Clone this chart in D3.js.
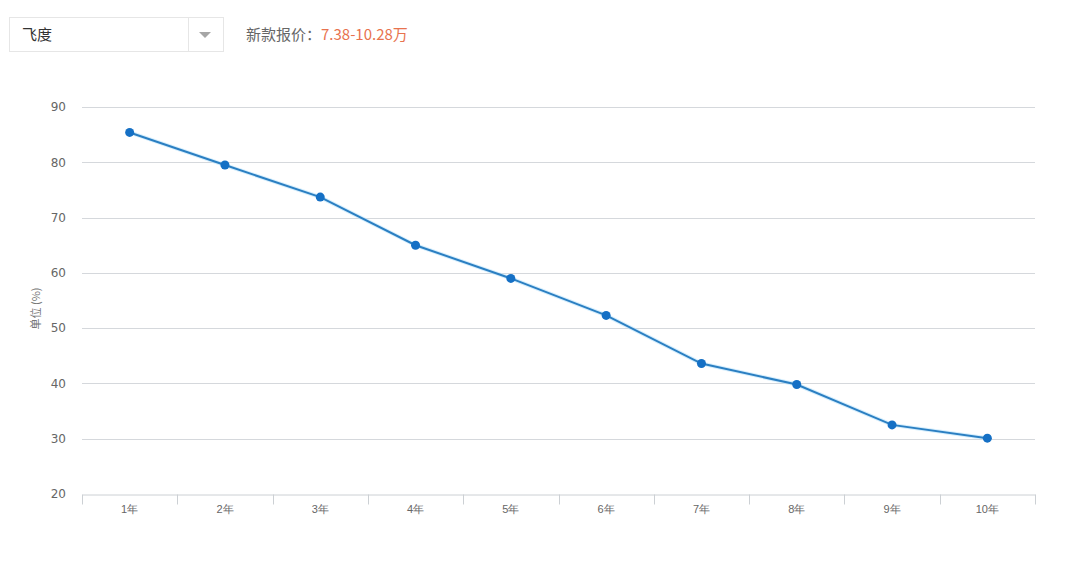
<!DOCTYPE html>
<html lang="zh">
<head>
<meta charset="utf-8">
<title>保值率</title>
<script src="https://d3js.org/d3.v7.min.js"></script>
<style>
  body { margin: 0; background: #fff; font-family: "Noto Sans CJK SC", "Noto Sans", sans-serif; }
</style>
</head>
<body>
<svg id="chart" width="1080" height="563"></svg>
<script>
// data
var years = ["1年", "2年", "3年", "4年", "5年", "6年", "7年", "8年", "9年", "10年"];
var rates = [85.4, 79.5, 73.7, 65.0, 59.0, 52.3, 43.6, 39.8, 32.5, 30.1];
var yTicks = [20, 30, 40, 50, 60, 70, 80, 90];
var carName = "飞度";
var priceLabel = "新款报价：";
var priceRange = "7.38-10.28万";

var svg = d3.select("#chart");

// --- header: fake dropdown + price
var head = svg.append("g");
head.append("rect")
  .attr("x", 9.5).attr("y", 17.5).attr("width", 214).attr("height", 34)
  .attr("fill", "#fff").attr("stroke", "#e6e6e6");
head.append("line")
  .attr("x1", 188.5).attr("x2", 188.5).attr("y1", 18).attr("y2", 51)
  .attr("stroke", "#e6e6e6");
head.append("path")
  .attr("d", "M199,32 L211,32 L205,38 Z")
  .attr("fill", "#a6a6a6");
head.append("text")
  .attr("x", 22).attr("y", 40)
  .attr("font-size", 15).attr("fill", "#333")
  .text(carName);
var pt = head.append("text")
  .attr("x", 246).attr("y", 40)
  .attr("font-size", 15);
pt.append("tspan").attr("fill", "#666").text(priceLabel);
pt.append("tspan").attr("fill", "#e8734f").text(priceRange);

// --- chart
var plotL = 82, plotR = 1035, plotT = 107, plotB = 494;

var x = d3.scaleBand().domain(years).range([plotL, plotR]);
var y = d3.scaleLinear().domain([20, 90]).range([plotB, plotT]);

// grid lines
svg.append("g")
  .selectAll("line")
  .data(yTicks.slice(1))
  .join("line")
  .attr("x1", plotL).attr("x2", plotR)
  .attr("y1", function(d){ return Math.round(y(d)) + 0.5; })
  .attr("y2", function(d){ return Math.round(y(d)) + 0.5; })
  .attr("stroke", "#d5d8dc");

// y axis labels
var yAxis = svg.append("g")
  .attr("transform", "translate(" + (plotL - 16) + ",0)")
  .call(d3.axisLeft(y).tickValues(yTicks).tickSize(0).tickPadding(0));
yAxis.select(".domain").remove();
yAxis.selectAll("text")
  .attr("font-size", 12).attr("fill", "#666")
  .attr("font-family", "'DejaVu Sans', sans-serif");

svg.append("text")
  .attr("transform", "translate(40," + ((plotT + plotB) / 2 + 8) + ") rotate(-90)")
  .attr("text-anchor", "middle")
  .attr("font-size", 11).attr("fill", "#777")
  .text("单位 (%)");

// x axis
var xAxis = svg.append("g")
  .attr("transform", "translate(0," + (plotB + 0.5) + ")")
  .call(d3.axisBottom(x).tickSize(0).tickPadding(11));
xAxis.select(".domain").attr("stroke", "#ccd0d4");
xAxis.selectAll("text")
  .attr("font-size", 11).attr("fill", "#666");

// tick marks on band edges
var edges = years.map(function(d){ return x(d); }).concat([plotR]);
xAxis.append("g").selectAll("line")
  .data(edges)
  .join("line")
  .attr("x1", function(d){ return Math.round(d) + 0.5; })
  .attr("x2", function(d){ return Math.round(d) + 0.5; })
  .attr("y1", 0).attr("y2", 10)
  .attr("stroke", "#ccd0d4");

// line + points
var pts = years.map(function(d, i){ return { year: d, value: rates[i] }; });
var line = d3.line()
  .x(function(d){ return x(d.year) + x.bandwidth() / 2; })
  .y(function(d){ return y(d.value); });

svg.append("path")
  .datum(pts)
  .attr("d", line)
  .attr("fill", "none")
  .attr("stroke", "#b9e2fb")
  .attr("stroke-width", 4)
  .attr("opacity", 0.6);

svg.append("path")
  .datum(pts)
  .attr("d", line)
  .attr("fill", "none")
  .attr("stroke", "#2b7fc2")
  .attr("stroke-width", 2);

svg.append("g")
  .selectAll("circle")
  .data(pts)
  .join("circle")
  .attr("cx", function(d){ return x(d.year) + x.bandwidth() / 2; })
  .attr("cy", function(d){ return y(d.value); })
  .attr("r", 4.5)
  .attr("fill", "#1570c5");
</script>
</body>
</html>
